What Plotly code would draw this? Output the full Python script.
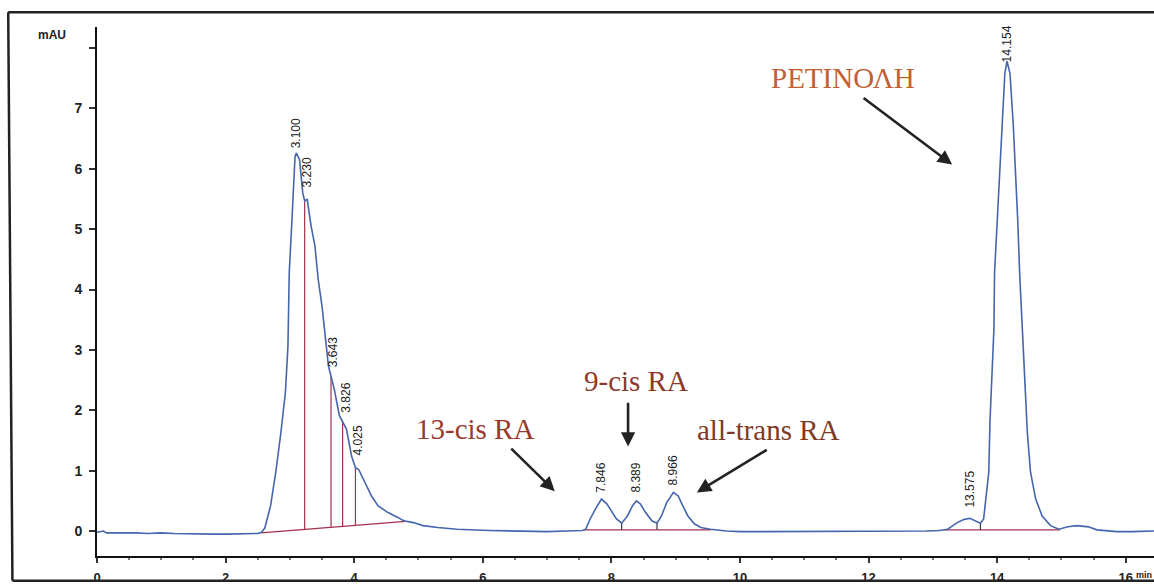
import plotly.graph_objects as go

# ---------------- data ----------------
time_min = [0.00, 0.05, 0.10, 0.15, 0.25, 0.40, 0.60, 0.80, 1.00, 1.20, 1.50, 1.80, 2.00, 2.20, 2.40,
            2.50, 2.56, 2.61, 2.70, 2.78, 2.86, 2.93, 2.97, 2.99, 3.03, 3.06, 3.08, 3.10, 3.15, 3.20,
            3.23, 3.27, 3.33, 3.39, 3.44, 3.50, 3.55, 3.60, 3.64, 3.69, 3.77, 3.82, 3.88, 3.96, 4.02,
            4.07, 4.17, 4.27, 4.37, 4.52, 4.67, 4.77, 4.92, 5.07, 5.30, 5.60, 6.10, 6.60, 7.00, 7.30,
            7.55, 7.60, 7.67, 7.75, 7.82, 7.846, 7.93, 8.01, 8.08, 8.16, 8.25, 8.33, 8.389, 8.45, 8.53,
            8.63, 8.71, 8.78, 8.86, 8.966, 9.04, 9.11, 9.19, 9.29, 9.39, 9.54, 9.69, 9.79, 10.0, 10.4,
            11.0, 11.5, 12.0, 12.5, 12.9, 13.1, 13.23, 13.38, 13.48, 13.575, 13.66, 13.74, 13.79, 13.87,
            13.89, 13.92, 13.95, 13.96, 14.00, 14.04, 14.08, 14.12, 14.154, 14.20, 14.25, 14.29, 14.32,
            14.35, 14.39, 14.42, 14.47, 14.52, 14.60, 14.70, 14.83, 14.96, 15.10, 15.24, 15.42, 15.55,
            15.70, 15.86, 16.10, 16.44]
signal_mau = [-0.02, -0.01, 0.00, -0.03, -0.03, -0.02, -0.03, -0.04, -0.03, -0.04, -0.05, -0.05, -0.05, -0.05, -0.05,
              -0.04, -0.02, 0.05, 0.42, 0.97, 1.63, 2.29, 3.06, 4.28, 5.10, 5.93, 6.20, 6.26, 6.15, 5.60,
              5.47, 5.49, 5.05, 4.72, 4.17, 3.72, 3.17, 2.73, 2.56, 2.35, 1.91, 1.81, 1.69, 1.24, 1.05,
              1.02, 0.80, 0.58, 0.42, 0.31, 0.23, 0.17, 0.14, 0.09, 0.06, 0.03, 0.01, 0.00, -0.01, 0.00,
              0.01, 0.03, 0.20, 0.36, 0.50, 0.53, 0.45, 0.31, 0.20, 0.13, 0.25, 0.42, 0.50, 0.45, 0.31,
              0.17, 0.13, 0.25, 0.47, 0.64, 0.58, 0.42, 0.25, 0.12, 0.06, 0.03, 0.01, 0.00, -0.01, -0.01,
              0.00, -0.01, -0.01, 0.00, 0.00, 0.01, 0.03, 0.14, 0.19, 0.21, 0.17, 0.13, 0.20, 0.97,
              1.85, 2.62, 3.34, 4.28, 5.16, 5.93, 6.75, 7.58, 7.78, 7.58, 6.75, 5.93, 5.16,
              4.28, 3.34, 2.62, 1.63, 0.97, 0.53, 0.25, 0.09, 0.03, 0.07, 0.09, 0.07, 0.02,
              0.00, -0.01, -0.01, 0.00]

# integration baselines (start/end time, start/end level)
base_t0 = [2.55, 7.58, 13.18]
base_t1 = [4.80, 9.55, 14.98]
base_y0 = [-0.03, 0.02, 0.02]
base_y1 = [0.16, 0.02, 0.02]

# drop lines (time, base level, top level)
drop_t = [3.23, 3.64, 3.82, 4.02]
drop_base = [0.027, 0.062, 0.077, 0.094]
drop_top = [5.47, 2.56, 1.81, 1.05]

# valley ticks
valley_t = [8.16, 8.71, 13.74]
valley_base = [0.02, 0.02, 0.02]
valley_top = [0.13, 0.13, 0.13]

# peak retention-time labels (text, position, bottom of label)
peak_labels = ["3.100", "3.230", "3.643", "3.826", "4.025", "7.846", "8.389", "8.966", "13.575", "14.154"]
peak_label_x = [3.10, 3.26, 3.67, 3.86, 4.06, 7.846, 8.389, 8.966, 13.575, 14.154]
peak_label_y = [6.31, 5.65, 2.68, 1.93, 1.22, 0.61, 0.61, 0.73, 0.36, 7.72]

x_tick_vals = [0, 2, 4, 6, 8, 10, 12, 14, 16]
y_tick_vals = [0, 1, 2, 3, 4, 5, 6, 7, 8]
y_tick_text = ["0", "1", "2", "3", "4", "5", "6", "7", ""]

# ---------------- figure ----------------
RED = "#a3304c"
BLUE = "#4565ad"
SANS = "Liberation Sans, Arial, sans-serif"
SERIF = "Liberation Serif, Times New Roman, serif"

fig = go.Figure()

bx, by = [], []
for a, b, c, d in zip(base_t0, base_t1, base_y0, base_y1):
    bx += [a, b, None]
    by += [c, d, None]
for t, b0, b1 in zip(drop_t, drop_base, drop_top):
    bx += [t, t, None]
    by += [b0, b1, None]
fig.add_trace(go.Scatter(x=bx, y=by, mode="lines", line=dict(color=RED, width=1.2),
                         hoverinfo="skip", showlegend=False))

vx, vy = [], []
for t, b0, b1 in zip(valley_t, valley_base, valley_top):
    vx += [t, t, None]
    vy += [b0, b1, None]
fig.add_trace(go.Scatter(x=vx, y=vy, mode="lines", line=dict(color="#333344", width=1.2),
                         hoverinfo="skip", showlegend=False))

fig.add_trace(go.Scatter(x=time_min, y=signal_mau, mode="lines",
                         line=dict(color=BLUE, width=1.6), showlegend=False))

annotations = []
for txt, x, y in zip(peak_labels, peak_label_x, peak_label_y):
    annotations.append(dict(x=x, y=y, xref="x", yref="y", text=txt, showarrow=False,
                            textangle=-90, xanchor="center", yanchor="bottom",
                            font=dict(family=SANS, size=12, color="#222222")))

annotations += [
    dict(x=11.60, y=7.50, xref="x", yref="y", text="ΡΕΤΙΝΟΛΗ", showarrow=False,
         font=dict(family=SERIF, size=29, color="#c35f35")),
    dict(x=5.88, y=1.69, xref="x", yref="y", text="13-cis RA", showarrow=False,
         font=dict(family=SERIF, size=29, color="#9a3a2c")),
    dict(x=8.38, y=2.48, xref="x", yref="y", text="9-cis RA", showarrow=False,
         font=dict(family=SERIF, size=29, color="#8c3a2a")),
    dict(x=10.44, y=1.67, xref="x", yref="y", text="all-trans RA", showarrow=False,
         font=dict(family=SERIF, size=29, color="#7e3a28")),
]
arrows = [  # (head x, head y, tail x, tail y)
    (13.30, 6.07, 11.90, 7.19),
    (7.12, 0.66, 6.42, 1.39),
    (8.26, 1.40, 8.26, 2.15),
    (9.33, 0.64, 10.44, 1.36),
]
for hx, hy, tx, ty in arrows:
    annotations.append(dict(x=hx, y=hy, ax=tx, ay=ty, xref="x", yref="y", axref="x", ayref="y",
                            text="", showarrow=True, arrowhead=2, arrowsize=1.1, arrowwidth=2.6,
                            arrowcolor="#222222"))

annotations += [
    dict(x=-0.027, y=1.0, xref="paper", yref="paper", text="<b>mAU</b>", showarrow=False,
         xanchor="right", yanchor="middle", yshift=-8,
         font=dict(family=SANS, size=12, color="#222222")),
    dict(x=1.0, y=-0.036, xref="paper", yref="paper", text="<b>min</b>", showarrow=False,
         xanchor="right", yanchor="middle", xshift=-1, borderpad=0,
         font=dict(family=SANS, size=9, color="#222222")),
]

shapes = [
    dict(type="line", xref="paper", yref="paper", x0=-0.084, y0=1.028, x1=1.0, y1=1.028,
         line=dict(color="#222222", width=2.5)),
    dict(type="line", xref="paper", yref="paper", x0=-0.084, y0=1.028, x1=-0.080, y1=-0.047,
         line=dict(color="#222222", width=2.5)),
    dict(type="line", xref="paper", yref="paper", x0=-0.080, y0=-0.047, x1=1.0, y1=-0.047,
         line=dict(color="#222222", width=2.5)),
]

fig.update_layout(
    width=1154, height=585,
    margin=dict(l=97, r=0, t=27, b=27),
    paper_bgcolor="white", plot_bgcolor="white",
    annotations=annotations, shapes=shapes,
    showlegend=False,
)
fig.update_xaxes(range=[0, 16.44], tickvals=x_tick_vals, showgrid=False, zeroline=False,
                 showline=True, linecolor="#111111", linewidth=2,
                 ticks="outside", ticklen=5, tickwidth=2, tickcolor="#333333", ticklabelstandoff=3,
                 minor=dict(dtick=0.5, ticks="outside", ticklen=2, tickcolor="#777777", showgrid=False),
                 tickfont=dict(family=SANS, size=13, color="#222222", weight="bold"))
fig.update_yaxes(range=[-0.413, 8.347], tickvals=y_tick_vals, ticktext=y_tick_text,
                 showgrid=False, zeroline=False,
                 showline=True, linecolor="#111111", linewidth=2,
                 ticks="outside", ticklen=6, tickwidth=1.5, tickcolor="#333333", ticklabelstandoff=4,
                 tickfont=dict(family=SANS, size=14, color="#222222", weight="bold"))

fig.write_html("out.html")
